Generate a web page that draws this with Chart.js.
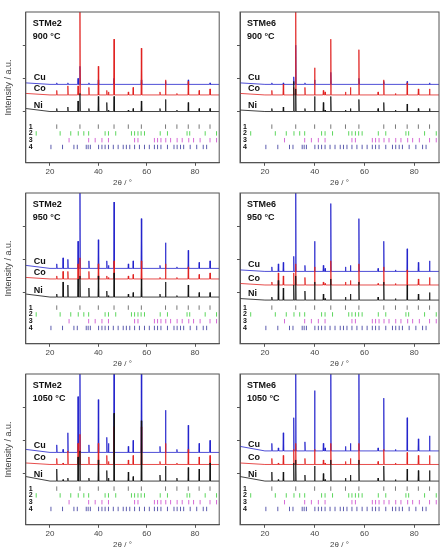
<!DOCTYPE html>
<html>
<head>
<meta charset="utf-8">
<script src="https://cdn.jsdelivr.net/npm/chart.js@4.4.0/dist/chart.umd.min.js"></script>
<style>
  body { margin: 0; background: #fff; width: 445px; height: 550px; position: relative; overflow: hidden; }
  .pan { position: absolute; width: 224px; height: 188px; }
</style>
</head>
<body>
<div class="pan" style="left:0;top:0"><canvas id="c1"></canvas></div>
<div class="pan" style="left:222px;top:0"><canvas id="c2"></canvas></div>
<div class="pan" style="left:0;top:181px"><canvas id="c3"></canvas></div>
<div class="pan" style="left:222px;top:181px"><canvas id="c4"></canvas></div>
<div class="pan" style="left:0;top:362px"><canvas id="c5"></canvas></div>
<div class="pan" style="left:222px;top:362px"><canvas id="c6"></canvas></div>
<script>
// peak positions (2theta) shared by all patterns
const peakPos = [22.8, 25.4, 27.4, 31.6, 32.4, 36.1, 40.0, 43.5, 44.2, 46.5, 52.4, 54.4, 57.8, 65.5, 67.8, 72.5, 77.2, 81.7, 86.2];

const panelNames = ['STMe2', 'STMe6', 'STMe2', 'STMe6', 'STMe2', 'STMe6'];
const panelTemps = ['900 °C', '900 °C', '950 °C', '950 °C', '1050 °C', '1050 °C'];

// baselines [Ni, Co, Cu] per panel
const baseNi = [34, 34, 31, 29, 29, 29];
const baseCo = [45, 45, 43, 39, 40, 40];
const baseCu = [52, 52, 50, 48, 48, 49];
// extra height at 10 deg (low angle rise)
const lowNi = [2, 1, 2, 1, 3, 3];
const lowCo = [1, 1, 1, 1, 1, 1];
const lowCu = [1, 1, 2, 1, 2, 3];

// peak heights above baseline, one row per panel
const niPeaks = [
  [2,0,3,7,12,2,10,6,1,10,1,2,7,2,8,1,6,2,2],
  [2,0,3,20,15,2,10,6,1,10,1,2,8,2,6,1,5,2,2],
  [2,10,8,12,14,6,14,4,1,16,2,3,12,2,10,1,8,3,3],
  [2,13,8,10,16,6,12,4,1,14,2,4,12,2,12,1,10,4,5],
  [8,1,2,16,20,2,14,7,2,45,6,3,40,4,10,2,9,8,12],
  [6,1,6,12,14,4,10,5,1,14,2,4,14,2,10,1,8,7,7]
];
const coPeaks = [
  [3,0,6,6,60,5,19,3,2,37,2,5,31,2,10,1,9,3,4],
  [3,0,7,5,60,5,18,3,2,37,2,5,30,2,10,1,8,4,4],
  [2,5,5,10,14,5,10,2,1,12,2,3,12,1,10,1,8,3,4],
  [2,8,6,8,14,5,12,2,1,16,2,3,14,1,12,1,10,4,5],
  [4,1,9,14,20,5,14,6,2,25,3,6,25,2,14,1,10,5,6],
  [4,1,6,10,14,4,10,3,1,14,2,4,14,2,10,1,8,6,6]
];
const cuPeaks = [
  [1,0,1,4,12,1,3,0,0,4,0,0,3,0,2,0,3,0,1],
  [1,0,1,5,26,1,3,0,0,8,0,0,4,0,2,0,2,0,1],
  [3,7,6,18,60,5,19,5,2,44,3,5,33,2,17,1,12,4,5],
  [3,5,6,10,60,4,20,4,2,45,3,4,35,2,20,1,15,6,7],
  [5,2,13,37,60,5,35,10,6,60,4,8,60,4,28,2,18,6,8],
  [5,2,12,22,60,6,40,5,2,60,3,5,60,2,35,1,22,8,10]
];

// reference tick positions, rows 1-4
const ref1 = [22.8, 32.4, 40.0, 46.5, 52.4, 57.8, 67.8, 72.5, 77.2, 81.7, 86.2];
const ref2 = [14.3, 24.2, 28.6, 31.7, 34.0, 36.0, 42.8, 44.2, 47.2, 53.7, 55.0, 56.4, 57.7, 59.1, 65.6, 68.6, 76.7, 77.8, 84.2, 88.9];
const ref3 = [27.9, 36.0, 38.7, 41.5, 44.2, 55.0, 56.4, 63.2, 64.5, 65.9, 67.9, 69.9, 72.6, 74.7, 77.4, 79.4, 82.1, 86.2, 88.9];
const ref4 = [20.4, 25.2, 29.9, 31.3, 35.0, 35.8, 36.7, 40.1, 41.5, 42.8, 44.2, 46.2, 48.2, 50.3, 51.6, 53.0, 55.0, 57.0, 59.1, 61.1, 63.2, 64.5, 65.9, 68.6, 71.3, 72.6, 74.0, 75.3, 78.0, 80.7, 83.4, 84.8];
const refLevels = [24, 19.5, 15, 10.5];
const refColors = ['#555555', '#33cc33', '#cc44cc', '#333399'];

function pattern(base, low, heights) {
  let pts = [{x: 10, y: base + low}, {x: 20, y: base}];
  peakPos.forEach(function(p, i) {
    if (heights[i] > 0) {
      pts.push({x: p - 0.15, y: base});
      pts.push({x: p, y: base + heights[i]});
      pts.push({x: p + 0.15, y: base});
    }
  });
  pts.push({x: 90, y: base});
  return pts;
}

const labelPlugin = {
  id: 'labels',
  afterDraw: function(chart) {
    const c = chart.ctx, a = chart.chartArea, o = chart.options.plugins.labels;
    const xs = chart.scales.x, ys = chart.scales.y;
    c.save();
    c.strokeStyle = '#555';
    c.lineWidth = 1;
    c.strokeRect(a.left, a.top, a.right - a.left, a.bottom - a.top);
    c.fillStyle = '#111';
    c.font = 'bold 9px Arial, "Liberation Sans"';
    c.textBaseline = 'alphabetic';
    c.fillText(o.name, a.left + 7, a.top + 14);
    c.fillText(o.temp, a.left + 7, a.top + 27);
    c.fillText('Ni', a.left + 8, ys.getPixelForValue(o.bNi) - 4);
    c.fillText('Co', a.left + 8, ys.getPixelForValue(o.bCo) - 4);
    c.fillText('Cu', a.left + 8, ys.getPixelForValue(o.bCu) - 4);
    c.font = 'bold 7px Arial, "Liberation Sans"';
    c.textBaseline = 'middle';
    ['1', '2', '3', '4'].forEach(function(t, i) {
      c.fillText(t, xs.getPixelForValue(11.2), ys.getPixelForValue(refLevels[i]));
    });
    c.restore();
  }
};

function makeChart(k) {
  const left = k % 2 === 0;
  const ticks = function(row, lvl, col) {
    return {
      type: 'scatter',
      data: row.map(function(v) { return {x: v, y: lvl}; }),
      pointStyle: 'line', rotation: 90, radius: 2.2,
      borderColor: col, borderWidth: 0.8, showLine: false
    };
  };
  new Chart(document.getElementById('c' + (k + 1)), {
    type: 'line',
    data: {
      datasets: [
        {data: pattern(baseNi[k], lowNi[k], niPeaks[k]), borderColor: '#111111'},
        {data: pattern(baseCo[k], lowCo[k], coPeaks[k]), borderColor: '#e0201e'},
        {data: pattern(baseCu[k], lowCu[k], cuPeaks[k]), borderColor: '#2222cc'},
        ticks(ref1, refLevels[0], refColors[0]),
        ticks(ref2, refLevels[1], refColors[1]),
        ticks(ref3, refLevels[2], refColors[2]),
        ticks(ref4, refLevels[3], refColors[3])
      ].map(function(d) {
        if (d.type !== 'scatter') { d.borderWidth = 0.8; d.pointRadius = 0; d.tension = 0; }
        return d;
      })
    },
    options: {
      responsive: false,
      animation: false,
      devicePixelRatio: 1,
      layout: {padding: {top: 12, right: left ? 2 : 7, left: left ? 3 : 15, bottom: 0}},
      plugins: {
        legend: {display: false}, tooltip: {enabled: false},
        labels: {name: panelNames[k], temp: panelTemps[k], bNi: baseNi[k], bCo: baseCo[k], bCu: baseCu[k]}
      },
      scales: {
        x: {
          type: 'linear', min: 10, max: 90,
          afterBuildTicks: function(s) { s.ticks = [20, 40, 60, 80].map(function(v) { return {value: v}; }); },
          grid: {drawOnChartArea: false, tickLength: 3, color: '#555'},
          border: {color: '#555'},
          ticks: {font: {size: 8, family: 'Arial, "Liberation Sans"'}, color: '#444', padding: 1, maxRotation: 0},
          title: {display: true, text: '2θ / °', font: {size: 8, family: 'Arial, "Liberation Sans"'}, color: '#444', padding: {top: 1, bottom: 0}}
        },
        y: {
          min: 0, max: 100,
          afterBuildTicks: function(s) { s.ticks = [34, 56, 78].map(function(v) { return {value: v}; }); },
          grid: {drawOnChartArea: false, tickLength: 3, color: '#555'},
          border: {color: '#555'},
          ticks: {display: false},
          title: {display: left, text: 'Intensity / a.u.', font: {size: 9, family: 'Arial, "Liberation Sans"'}, color: '#444', padding: {top: 0, bottom: 9}}
        }
      }
    },
    plugins: [labelPlugin]
  });
}

for (let k = 0; k < 6; k++) {
  document.getElementById('c' + (k + 1)).width = 224;
  document.getElementById('c' + (k + 1)).height = 188;
  makeChart(k);
}
</script>
</body>
</html>
